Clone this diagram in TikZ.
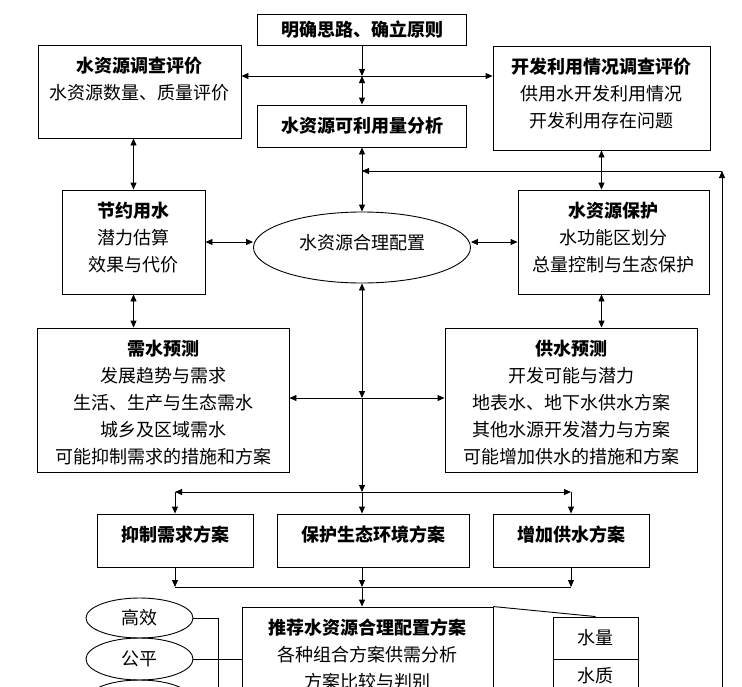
\documentclass[tikz,border=0pt]{standalone}
\usepackage{fontspec}
\setmainfont{Noto Sans CJK SC}
\usetikzlibrary{arrows.meta,positioning,shapes.geometric}

\begin{document}
\begin{tikzpicture}[
    x=1pt, y=-1pt,
    node distance=12pt,
    every node/.style={font=\fontsize{18}{27}\selectfont},
    box/.style={draw, line width=0.9pt, inner sep=0pt},
    txt/.style={align=center, inner sep=0pt},
    oval/.style={draw, ellipse, line width=0.9pt, inner sep=0pt},
    flow/.style={-{Triangle[length=7pt,width=6pt]}, line width=0.9pt},
    twoway/.style={{Triangle[length=7pt,width=6pt]}-{Triangle[length=7pt,width=6pt]}, line width=0.9pt},
    link/.style={line width=0.9pt}
]
\clip (0,0) rectangle (742,686);
\node[box, minimum width=209pt, minimum height=31pt] (principle) at (362,29.5) {\textbf{明确思路、确立原则}};
\node[box, minimum width=203pt, minimum height=93pt] (survey) at (139.5,91.5) {};
\node[txt, below=of survey.north] (survey-text) {\textbf{水资源调查评价}\\水资源数量、质量评价};
\node[box, minimum width=217pt, minimum height=104pt] (exploit) at (601.5,98) {};
\node[txt, below=of exploit.north] (exploit-text) {\textbf{开发利用情况调查评价}\\供用水开发利用情况\\开发利用存在问题};
\node[box, minimum width=209pt, minimum height=42pt] (usable) at (362,126) {\textbf{水资源可利用量分析}};
\node[box, minimum width=143pt, minimum height=104pt] (saving) at (133.5,242) {};
\node[txt, below=of saving.north] (saving-text) {\textbf{节约用水}\\潜力估算\\效果与代价};
\node[oval, minimum width=217pt, minimum height=71pt] (alloc) at (362,247.5) {};
\node[txt, above=5pt of alloc.center, anchor=center] (alloc-text) {水资源合理配置};
\node[box, minimum width=191pt, minimum height=104pt] (protect) at (613.5,242) {};
\node[txt, below=of protect.north] (protect-text) {\textbf{水资源保护}\\水功能区划分\\总量控制与生态保护};
\node[box, minimum width=252pt, minimum height=144pt] (demand) at (163,400) {};
\node[txt, below=of demand.north] (demand-text) {\textbf{需水预测}\\发展趋势与需求\\生活、生产与生态需水\\城乡及区域需水\\可能抑制需求的措施和方案};
\node[box, minimum width=252pt, minimum height=144pt] (supply) at (571,400) {};
\node[txt, below=of supply.north] (supply-text) {\textbf{供水预测}\\开发可能与潜力\\地表水、地下水供水方案\\其他水源开发潜力与方案\\可能增加供水的措施和方案};
\node[box, minimum width=156pt, minimum height=53pt] (restrain) at (175,540.5) {};
\node[txt, below=of restrain.north] (restrain-text) {\textbf{抑制需求方案}};
\node[box, minimum width=192pt, minimum height=53pt] (eco) at (373,540.5) {};
\node[txt, below=of eco.north] (eco-text) {\textbf{保护生态环境方案}};
\node[box, minimum width=156pt, minimum height=53pt] (increase) at (571,540.5) {};
\node[txt, below=of increase.north] (increase-text) {\textbf{增加供水方案}};
\node[box, minimum width=251pt, minimum height=113pt] (recommend) at (367.5,663.5) {};
\node[txt, below=of recommend.north] (recommend-text) {\textbf{推荐水资源合理配置方案}\\各种组合方案供需分析\\方案比较与判别};
\node[oval, minimum width=107pt, minimum height=40pt] (efficient) at (139.5,618) {高效};
\node[oval, minimum width=107pt, minimum height=42pt] (fair) at (139.5,659) {公平};
\node[oval, minimum width=107pt, minimum height=42pt] (ellthird) at (139.5,701) {};
\node[box, minimum width=85pt, minimum height=42pt] (quantity) at (595.5,638) {水量};
\node[box, minimum width=85pt, minimum height=34pt] (quality) at (595.5,676) {水质};
\coordinate (j1) at (362,76);
\coordinate (j2) at (362,398);
\coordinate (j3) at (362,492);
\coordinate (j4) at (362,587);
\coordinate (fbtop) at (722,171);
\coordinate (fbfoot) at (722,720);
\coordinate (effdrop) at (218,720);
\draw[flow] (principle) -- (j1);
\draw[flow] (j1) -- (j1 -| survey.east);
\draw[flow] (j1) -- (j1 -| exploit.west);
\draw[twoway] (j1) -- (usable);
\draw[twoway] (usable) -- (alloc);
\draw[flow] (fbfoot) -- (fbtop);
\draw[flow] (fbtop) -- (fbtop -| alloc);
\draw[twoway] (saving.north) -- (saving.north |- survey.south);
\draw[twoway] (saving.south) -- (saving.south |- demand.north);
\draw[twoway] (saving.east) -- (saving.east -| alloc.west);
\draw[twoway] (protect.west) -- (protect.west -| alloc.east);
\draw[twoway] (exploit.south) -- (exploit.south |- protect.north);
\draw[twoway] (exploit.south |- protect.south) -- (exploit.south |- supply.north);
\draw[twoway] (alloc) -- (j2);
\draw[flow] (j2) -- (j2 -| demand.east);
\draw[flow] (j2) -- (j2 -| supply.west);
\draw[flow] (j2) -- (j3);
\draw[flow] (j3) -- (j3 -| restrain.north);
\draw[flow] (j3 -| restrain.north) -- (restrain.north);
\draw[flow] (j3) -- (j3 -| increase.north);
\draw[flow] (j3 -| increase.north) -- (increase.north);
\draw[flow] (j3) -- (j3 |- eco.north);
\draw[flow] (restrain.south) -- (restrain.south |- j4);
\draw[flow] (eco.south -| j4) -- (j4);
\draw[flow] (increase.south) -- (increase.south |- j4);
\draw[link] (restrain.south |- j4) -- (increase.south |- j4);
\draw[flow] (j4) -- (j4 |- recommend.north);
\draw[link] (efficient.east) -| (effdrop);
\draw[link] (fair.east) -- (fair.east -| recommend.west);
\draw[link] (recommend.north east) -- (quantity.north);
\end{tikzpicture}
\end{document}
